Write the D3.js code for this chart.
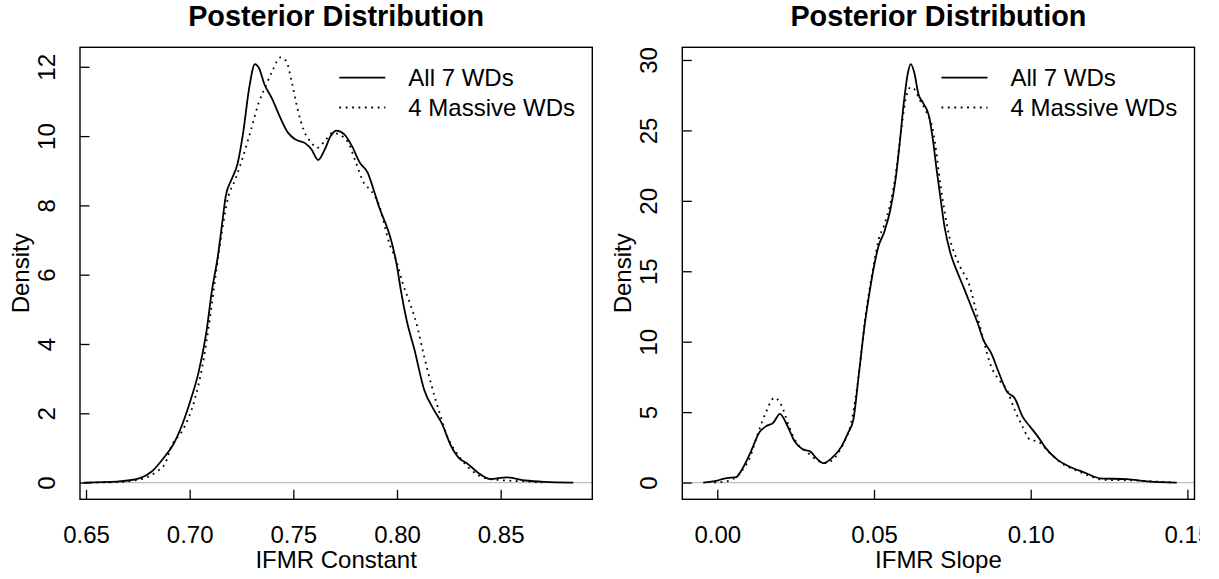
<!DOCTYPE html>
<html>
<head>
<meta charset="utf-8">
<script src="https://cdn.jsdelivr.net/npm/d3@7"></script>
<style>
  html, body { margin: 0; padding: 0; background: #fff; }
  svg { display: block; font-family: "Liberation Sans", Arial, Helvetica, sans-serif; }
</style>
</head>
<body>
<svg id="chart" width="1219" height="579"></svg>
<script>
// ---------------- DATA ----------------
const titleText = "Posterior Distribution";
const yLabel = "Density";
const legendLabels = ["All 7 WDs", "4 Massive WDs"];

// Left panel: IFMR Constant
const constXLabel = "IFMR Constant";
const constXTicks = [0.65, 0.70, 0.75, 0.80, 0.85];
const constYTicks = [0, 2, 4, 6, 8, 10, 12];
const constXLim = [0.6471, 0.8942];
const constYLim = [-0.483, 12.563];
const constAllX = [0.6489,0.6648,0.676,0.6817,0.6873,0.692,0.6967,0.7005,0.7042,0.708,0.7108,0.7135,0.7155,0.7174,0.7202,0.723,0.7258,0.7286,0.7315,0.7333,0.7361,0.7399,0.7437,0.7474,0.7511,0.7558,0.7587,0.762,0.7652,0.768,0.7708,0.7746,0.7783,0.7821,0.7859,0.7887,0.7915,0.7953,0.7971,0.8,0.8018,0.8046,0.8084,0.8131,0.8178,0.8215,0.8262,0.83,0.8337,0.8394,0.845,0.8529,0.8619,0.8712,0.885];
const constAllY = [0,0.03,0.13,0.32,0.70,1.09,1.72,2.39,3.16,4.32,5.57,6.5,7.4,8.27,8.75,9.18,10.10,11.35,12.08,11.98,11.49,11.06,10.53,10.10,9.90,9.79,9.62,9.31,9.62,10.0,10.16,10.05,9.71,9.23,8.94,8.46,7.93,7.35,7.01,6.24,5.57,4.70,3.84,2.68,2.10,1.72,1.04,0.70,0.56,0.27,0.10,0.15,0.06,0.02,0];
const constMassX = [0.652,0.668,0.6752,0.6785,0.6841,0.6881,0.6911,0.6967,0.7024,0.7061,0.7099,0.7127,0.7155,0.7183,0.722,0.7258,0.7296,0.7333,0.737,0.7399,0.7437,0.7465,0.7493,0.7521,0.7549,0.7587,0.7615,0.7652,0.769,0.7718,0.7765,0.7802,0.784,0.7877,0.7915,0.7962,0.8,0.8027,0.8056,0.8093,0.8131,0.8168,0.8206,0.8243,0.83,0.8356,0.8431,0.8525,0.8637,0.87];
const constMassY = [0,0.02,0.08,0.13,0.32,0.54,1.04,1.52,2.39,3.35,4.80,6.05,7.21,8.17,8.75,9.42,10.19,10.96,11.49,11.88,12.27,12.17,11.54,10.77,10.19,9.81,9.66,9.86,10.10,10.05,9.81,9.23,8.65,8.41,7.98,6.92,6.34,5.76,5.28,4.61,3.64,2.77,2.0,1.33,0.75,0.37,0.12,0.06,0.03,0];

// Right panel: IFMR Slope
const slopeXLabel = "IFMR Slope";
const slopeXTicks = [0.00, 0.05, 0.10, 0.15];
const slopeYTicks = [0, 5, 10, 15, 20, 25, 30];
const slopeXLim = [-0.01117, 0.15227];
const slopeYLim = [-1.19, 30.9];
const slopeAllX = [-0.0045,0,0.0019,0.0046,0.006,0.0078,0.0105,0.0136,0.0154,0.0179,0.02,0.0222,0.0247,0.0272,0.0297,0.0316,0.0338,0.0365,0.0396,0.0417,0.0434,0.0452,0.0471,0.0487,0.0502,0.0514,0.0533,0.0552,0.057,0.0583,0.0595,0.0608,0.0617,0.0629,0.0641,0.0657,0.0676,0.0688,0.07,0.0713,0.0725,0.0744,0.0763,0.0785,0.0806,0.0831,0.0849,0.0874,0.0899,0.0924,0.0949,0.0974,0.0998,0.1023,0.1048,0.1086,0.1123,0.1172,0.1222,0.1306,0.138,0.1466];
const slopeAllY = [0,0.14,0.26,0.35,0.38,0.9,2.09,3.62,3.97,4.26,4.88,4.10,2.91,2.37,2.20,1.73,1.38,1.73,2.55,3.51,4.45,7.76,11.31,13.68,15.57,16.75,17.81,19.35,21.72,24.32,26.93,29.06,29.71,29.06,27.64,26.93,25.98,24.32,22.19,20.06,18.17,16.28,15.1,13.91,12.73,11.31,10.13,9.18,7.76,6.46,5.99,4.68,3.97,3.26,2.44,1.61,1.14,0.71,0.30,0.24,0.07,0];
const slopeMassX = [-0.001,0.0032,0.0067,0.0105,0.013,0.0154,0.0183,0.0204,0.0229,0.0254,0.0285,0.0316,0.0347,0.0378,0.0403,0.0427,0.0452,0.0471,0.0487,0.0502,0.0514,0.0533,0.0552,0.057,0.0583,0.0601,0.0617,0.063,0.0645,0.0665,0.0688,0.0713,0.0738,0.0775,0.0806,0.0825,0.0849,0.0874,0.0899,0.0924,0.0949,0.0974,0.0998,0.1023,0.1061,0.1098,0.1136,0.1179,0.1232,0.1338,0.1402,0.146];
const slopeMassY = [0,0.1,0.55,1.85,3.51,4.93,6.03,5.51,3.97,2.80,2.20,1.61,1.38,1.85,2.80,4.22,7.76,11.5,13.9,15.8,17.2,18.3,19.8,22.0,24.3,27.2,28.06,27.9,27.2,26.4,25.03,21.0,17.7,15.33,13.91,12.26,10.13,8.23,7.29,6.58,5.16,3.97,3.03,2.91,2.09,1.38,0.95,0.55,0.19,0.14,0.07,0];

// ---------------- DRAW ----------------
const svg = d3.select("#chart");
const defs = svg.append("defs");
defs.append("clipPath").attr("id", "pageclip")
  .append("rect").attr("x", 0).attr("y", 0).attr("width", 1200).attr("height", 579);

const root = svg.append("g").attr("clip-path", "url(#pageclip)");

const FS = 24;

function panel(cfg) {
  const g = root.append("g");
  const x = d3.scaleLinear().domain(cfg.xLim).range([cfg.left, cfg.right]);
  const y = d3.scaleLinear().domain(cfg.yLim).range([cfg.bottom, cfg.top]);
  const cx = (cfg.left + cfg.right) / 2;
  const cy = (cfg.top + cfg.bottom) / 2;

  // zero line
  g.append("line")
    .attr("x1", cfg.left).attr("x2", cfg.right)
    .attr("y1", y(0)).attr("y2", y(0))
    .attr("stroke", "#bebebe").attr("stroke-width", 1.2);

  const clipId = "clip" + cfg.id;
  defs.append("clipPath").attr("id", clipId)
    .append("rect").attr("x", cfg.left).attr("y", cfg.top)
    .attr("width", cfg.right - cfg.left).attr("height", cfg.bottom - cfg.top);

  const line = d3.line().x(d => x(d[0])).y(d => y(d[1])).curve(d3.curveMonotoneX);
  const cg = g.append("g").attr("clip-path", `url(#${clipId})`);
  cg.append("path").datum(d3.zip(cfg.massX, cfg.massY))
    .attr("d", line).attr("fill", "none").attr("stroke", "#000")
    .attr("stroke-width", 1.8).attr("stroke-dasharray", "1.8,4.6");
  cg.append("path").datum(d3.zip(cfg.allX, cfg.allY))
    .attr("d", line).attr("fill", "none").attr("stroke", "#000")
    .attr("stroke-width", 1.8);

  // x axis
  const xa = g.append("g").attr("transform", `translate(0,${cfg.bottom})`)
    .call(d3.axisBottom(x).tickValues(cfg.xTicks).tickFormat(d3.format(".2f")).tickSize(-9.5));
  xa.select(".domain").remove();
  xa.selectAll(".tick line").attr("stroke", "#000").attr("stroke-width", 1.3);
  xa.selectAll(".tick text").attr("y", 43.3).attr("dy", 0)
    .attr("fill", "#000").style("font-size", FS + "px")
    .style("font-family", '"Liberation Sans", Arial, sans-serif');

  // y axis
  const ya = g.append("g").attr("transform", `translate(${cfg.left},0)`)
    .call(d3.axisLeft(y).tickValues(cfg.yTicks).tickFormat(d3.format("d")).tickSize(-9.5));
  ya.select(".domain").remove();
  ya.selectAll(".tick line").attr("stroke", "#000").attr("stroke-width", 1.3);
  ya.selectAll(".tick text").attr("x", 0).attr("y", 0).attr("dy", 0)
    .attr("transform", "translate(-25,0) rotate(-90)")
    .attr("text-anchor", "middle")
    .attr("fill", "#000").style("font-size", FS + "px")
    .style("font-family", '"Liberation Sans", Arial, sans-serif');

  // box
  g.append("rect")
    .attr("x", cfg.left).attr("y", cfg.top)
    .attr("width", cfg.right - cfg.left).attr("height", cfg.bottom - cfg.top)
    .attr("fill", "none").attr("stroke", "#000").attr("stroke-width", 1.4);

  // labels
  g.append("text").attr("x", cx).attr("y", 568.3).attr("text-anchor", "middle")
    .style("font-size", FS + "px").text(cfg.xLabel);
  g.append("text").attr("transform", `translate(${cfg.left - 51},${cy}) rotate(-90)`)
    .attr("text-anchor", "middle").style("font-size", FS + "px").text(yLabel);
  g.append("text").attr("x", cx).attr("y", 25.5).attr("text-anchor", "middle")
    .style("font-size", (FS * 1.2) + "px").style("font-weight", "bold").text(titleText);

  // legend
  const lg = g.append("g");
  const dashes = [null, "1.8,4.6"];
  legendLabels.forEach((lab, i) => {
    const ly = 77.7 + i * 29.8;
    const ln = lg.append("line")
      .attr("x1", cfg.right - 253).attr("x2", cfg.right - 207)
      .attr("y1", ly).attr("y2", ly)
      .attr("stroke", "#000").attr("stroke-width", 1.8);
    if (dashes[i]) ln.attr("stroke-dasharray", dashes[i]);
    lg.append("text").attr("x", cfg.right - 184).attr("y", ly + 8)
      .style("font-size", FS + "px").text(lab);
  });
}

panel({
  id: "L", left: 80, right: 592.3, top: 47.3, bottom: 499.3,
  xLim: constXLim, yLim: constYLim, xTicks: constXTicks, yTicks: constYTicks,
  xLabel: constXLabel, allX: constAllX, allY: constAllY, massX: constMassX, massY: constMassY
});
panel({
  id: "R", left: 682.3, right: 1194.5, top: 47.3, bottom: 499.3,
  xLim: slopeXLim, yLim: slopeYLim, xTicks: slopeXTicks, yTicks: slopeYTicks,
  xLabel: slopeXLabel, allX: slopeAllX, allY: slopeAllY, massX: slopeMassX, massY: slopeMassY
});
</script>
</body>
</html>
